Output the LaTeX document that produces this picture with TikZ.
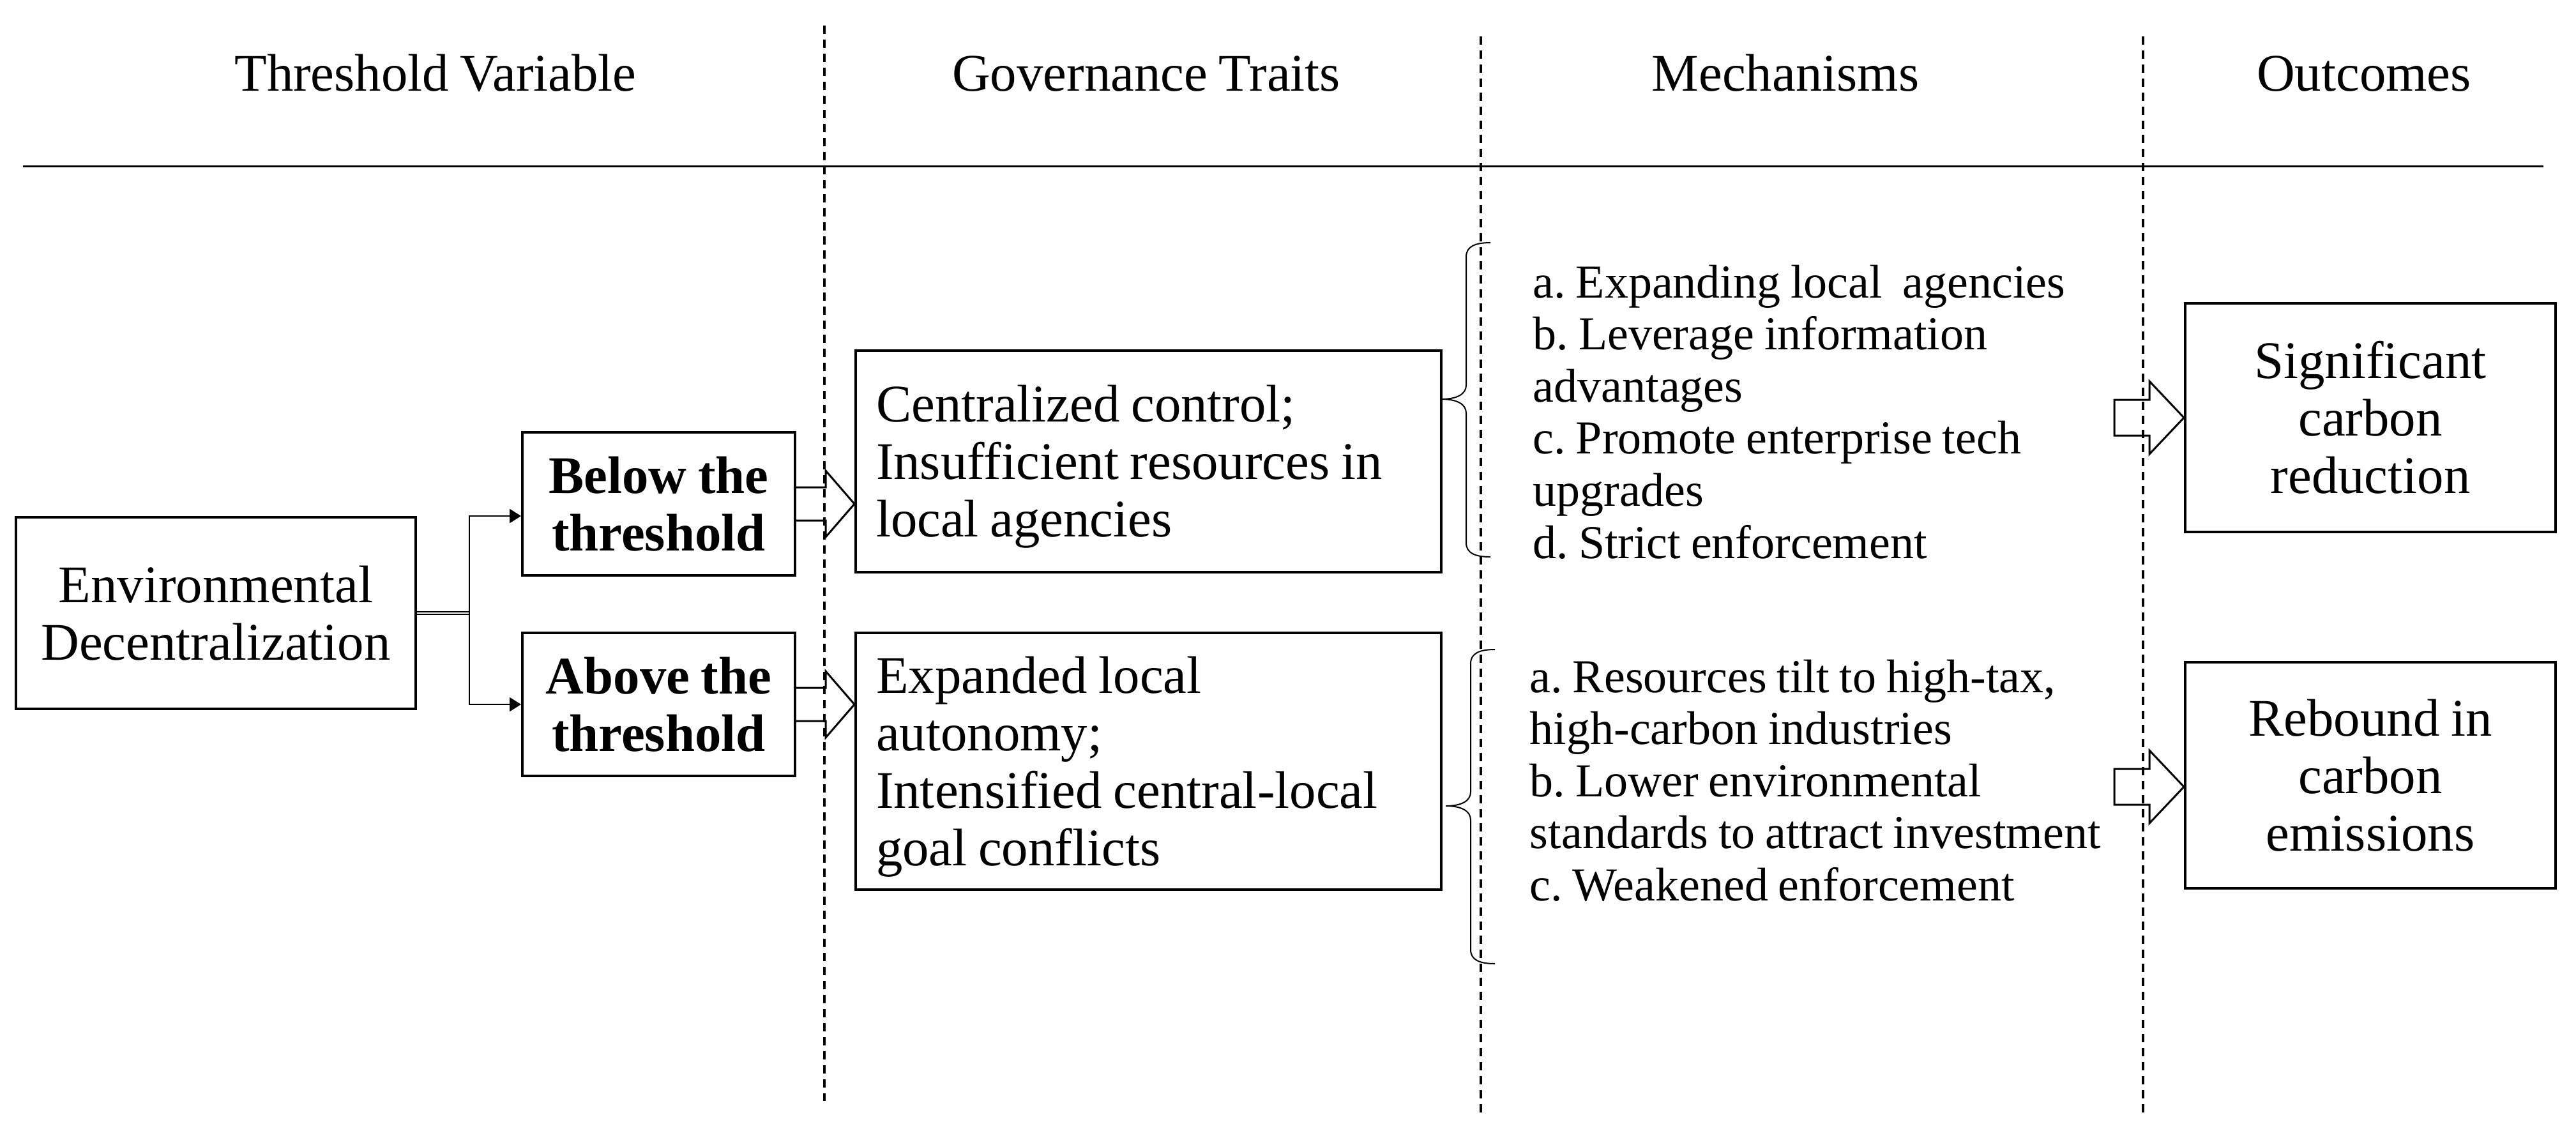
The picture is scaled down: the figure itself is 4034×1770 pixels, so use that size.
\documentclass[tikz,border=0pt]{standalone}
\usepackage{fontspec}
\setmainfont[WordSpace=0.85]{Liberation Serif}
\usetikzlibrary{arrows.meta,calc}
\frenchspacing
\newcommand\fsmain{\fontsize{20.7}{22.5}\selectfont}
\newcommand\fsmech{\fontsize{18.5}{20.4}\selectfont}
\newcommand\boxtext[2]{\raisebox{0pt}[\height][\dimexpr\depth-5pt\relax]{\begin{tabular}{@{}#1@{}}#2\end{tabular}}}
\tikzset{
  box/.style={draw, line width=1pt, inner sep=0pt, font=\fsmain},
  hdr/.style={inner sep=0pt, font=\fsmain, anchor=base},
  mech/.style={inner sep=0pt, font=\fsmech, anchor=base west},
  dashline/.style={line width=0.8pt, dash pattern=on 3.25pt off 2.25pt},
  rule/.style={line width=0.75pt},
  dbl/.style={double, line width=0.4pt, double distance=0.55pt},
  conn/.style={line width=0.6pt, -{Triangle[length=4.5pt,width=5.5pt]}},
  barrow/.style={line width=0.75pt, line join=miter},
  brace/.style={line width=0.5pt}
}
\begin{document}
\begin{tikzpicture}[x=0.25pt,y=-0.25pt]
\useasboundingbox (0,0) rectangle (4034,1770);

% headers
\node[hdr] (h1) at (682,142) {Threshold Variable};
\node[hdr] (h2) at (1795,142) {Governance Traits};
\node[hdr] (h3) at (2796,142) {Mechanisms};
\node[hdr] (h4) at (3702,142) {Outcomes};

% rule and column separators
\draw[rule] (36,260) -- (3983,260);
\draw[dashline] (1291,40) -- (1291,1724);
\draw[dashline] (2319,57) -- (2319,1745);
\draw[dashline] (3356,57) -- (3356,1745);

% boxes
\node[box, minimum width=156.5pt, minimum height=75pt] (env) at (338,960) {\boxtext{c}{Environmental\\Decentralization}};
\node[box, minimum width=106.75pt, minimum height=56pt, font=\fsmain\bfseries] (below) at (1031.5,789) {\boxtext{c}{Below the\\threshold}};
\node[box, minimum width=106.75pt, minimum height=56pt, font=\fsmain\bfseries] (above) at (1031.5,1103) {\boxtext{c}{Above the\\threshold}};
\node[box, minimum width=229.25pt, minimum height=86.75pt] (cent) at (1798.5,722.5) {\boxtext{p{213.25pt}}{Centralized control;\\Insufficient resources in\\local agencies}};
\node[box, minimum width=229.25pt, minimum height=100.5pt] (exp) at (1798.5,1192) {\boxtext{p{213.25pt}}{Expanded local\\autonomy;\\Intensified central-local\\goal conflicts}};
\node[box, minimum width=145pt, minimum height=89.5pt] (sig) at (3712,654) {\boxtext{c}{Significant\\carbon\\reduction}};
\node[box, minimum width=145pt, minimum height=88.5pt] (reb) at (3712,1214) {\boxtext{c}{Rebound in\\carbon\\emissions}};

% mechanisms text
\node[mech] (mu) at (2400,466) {\begin{tabular}[t]{@{}l@{}}a. Expanding local\ \ agencies\\ b. Leverage information\\ advantages\\ c. Promote enterprise tech\\ upgrades\\ d. Strict enforcement\end{tabular}};
\node[mech] (ml) at (2395,1084) {\begin{tabular}[t]{@{}l@{}}a. Resources tilt to high-tax,\\ high-carbon industries\\ b. Lower environmental\\ standards to attract investment\\ c. Weakened enforcement\end{tabular}};

% junction connectors
\coordinate (j) at (735,960);
\draw[dbl] (env.east) -- (j);
\draw[conn] (j) |- ([yshift=-4.75pt]below.west);
\draw[conn] (j) |- (above.west);

% block arrows
\draw[barrow] ($(below.east)+(0,-26)$) -- ++(46,0) -- ++(0,-26) -- (cent.west |- below.east) -- ($(below.east)+(46,52)$) -- ++(0,-26) -- ($(below.east)+(0,26)$);
\draw[barrow] ($(above.east)+(0,-26)$) -- ++(46,0) -- ++(0,-26) -- (exp.west |- above.east) -- ($(above.east)+(46,52)$) -- ++(0,-26) -- ($(above.east)+(0,26)$);
\coordinate (m1) at (3311,654);
\coordinate (m2) at (3311,1232);
\draw[barrow] ($(m1)+(0,-28)$) -- ++(55,0) -- ++(0,-29) -- (sig.west |- m1) -- ($(m1)+(55,57)$) -- ++(0,-29) -- ($(m1)+(0,28)$) -- cycle;
\draw[barrow] ($(m2)+(0,-28)$) -- ++(55,0) -- ++(0,-29) -- (reb.west |- m2) -- ($(m2)+(55,57)$) -- ++(0,-29) -- ($(m2)+(0,28)$) -- cycle;

% braces
\draw[brace] (2334,380) .. controls (2310,380) and (2296,386) .. (2296,402) -- (2296,603) .. controls (2296,617) and (2282,625) .. (2257,625) .. controls (2282,625) and (2296,633) .. (2296,647) -- (2296,850) .. controls (2296,866) and (2310,872) .. (2334,872);
\draw[brace] (2341,1017) .. controls (2317,1017) and (2303,1023) .. (2303,1039) -- (2303,1240) .. controls (2303,1254) and (2289,1262) .. (2264,1262) .. controls (2289,1262) and (2303,1270) .. (2303,1284) -- (2303,1487) .. controls (2303,1503) and (2317,1509) .. (2341,1509);
\end{tikzpicture}
\end{document}
